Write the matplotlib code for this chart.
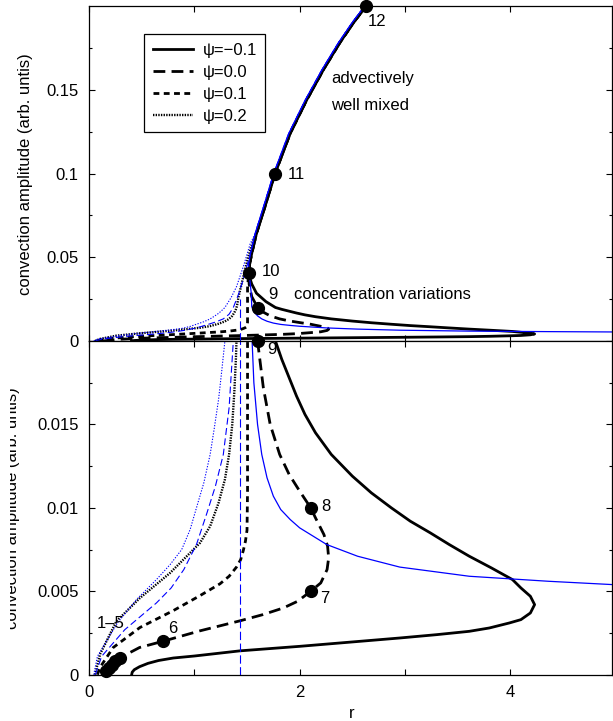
import numpy as np
import matplotlib
matplotlib.use('Agg')
import matplotlib.pyplot as plt
from matplotlib.patches import Rectangle

plt.rcParams['font.family'] = ['Liberation Sans', 'DejaVu Sans']
plt.rcParams['font.size'] = 12
plt.rcParams['lines.scale_dashes'] = False

# ---------------- data (r, amplitude) ----------------
# common upper ("advectively well mixed") branch, black curves
upper_r = [1.52, 1.525, 1.545, 1.59, 1.67, 1.766, 1.91, 2.067, 2.225, 2.38, 2.51, 2.63, 2.75]
upper_A = [0.040, 0.046, 0.0524, 0.0643, 0.0802, 0.100, 0.124, 0.144, 0.162, 0.178, 0.190, 0.200, 0.210]

# upper branch, blue curves
bup_r = [1.515, 1.533, 1.578, 1.657, 1.753, 1.897, 2.054, 2.212, 2.367, 2.497, 2.617, 2.737]
bup_A = [0.046, 0.0524, 0.0643, 0.0802, 0.100, 0.124, 0.144, 0.162, 0.178, 0.190, 0.200, 0.210]

# psi = -0.1 (black solid)
m01_r = [0.405, 0.41, 0.43, 0.48, 0.56, 0.66, 0.80, 1.00, 1.434, 2.0, 2.95, 3.30, 3.61, 3.80, 3.99,
         4.10, 4.19, 4.23, 4.19, 4.10, 4.02, 3.82, 3.61, 3.42, 3.24, 3.05, 2.87, 2.68, 2.50, 2.30,
         2.15, 2.05, 1.97, 1.90, 1.83, 1.77, 1.68, 1.59, 1.545, 1.525]
m01_A = [0.0, 0.00015, 0.0003, 0.00048, 0.00068, 0.00085, 0.00100, 0.00112, 0.00143, 0.0017, 0.0022,
         0.0024, 0.0026, 0.0028, 0.0031, 0.0033, 0.0037, 0.0042, 0.0047, 0.0052, 0.0057, 0.0064,
         0.0071, 0.0078, 0.0085, 0.0092, 0.0100, 0.0109, 0.0119, 0.0132, 0.0145, 0.0156, 0.0167,
         0.0178, 0.0189, 0.0200, 0.0235, 0.0285, 0.034, 0.038]

# psi = 0.0 (black long dashed)
p00_r = [0.13, 0.16, 0.20, 0.29, 0.48, 0.70, 1.054, 1.434, 1.65, 1.845, 1.98, 2.105, 2.20, 2.26, 2.275,
         2.265, 2.23, 2.19, 2.15, 2.105, 2.00, 1.90, 1.81, 1.72, 1.655, 1.60, 1.545, 1.52]
p00_A = [0.0, 0.0002, 0.0005, 0.0010, 0.00163, 0.0020, 0.00263, 0.00323, 0.0036, 0.0040, 0.0044,
         0.0050, 0.0055, 0.0063, 0.0070, 0.0077, 0.0084, 0.0089, 0.0094, 0.0100, 0.0110, 0.0120,
         0.0132, 0.0150, 0.0172, 0.0200, 0.0265, 0.034]

# psi = 0.1 (black short dashed)
p01_r = [0.08, 0.105, 0.23, 0.484, 0.80, 1.054, 1.244, 1.33, 1.40, 1.44, 1.465, 1.485, 1.50, 1.505,
         1.505, 1.505, 1.505, 1.51]
p01_A = [0.0, 0.00044, 0.00163, 0.00283, 0.00384, 0.00474, 0.00545, 0.0059, 0.00645, 0.0069,
         0.00745, 0.0080, 0.00866, 0.0110, 0.0147, 0.0200, 0.0315, 0.036]

# psi = 0.2 (black dotted)
p02_r = [0.057, 0.105, 0.26, 0.484, 0.77, 1.054, 1.15, 1.23, 1.29, 1.33, 1.36, 1.38, 1.395, 1.405,
         1.42, 1.465, 1.51, 1.55]
p02_A = [0.0, 0.00123, 0.0032, 0.0046, 0.0061, 0.0079, 0.0089, 0.0103, 0.0117, 0.0132, 0.0150,
         0.0170, 0.0190, 0.0210, 0.0265, 0.0384, 0.050, 0.058]

# blue solid
bs_r = [4.97, 4.36, 3.61, 3.25, 2.95, 2.55, 2.257, 2.00, 1.91, 1.82, 1.75, 1.69, 1.64, 1.60, 1.565,
        1.545, 1.54, 1.53, 1.52]
bs_A = [0.0054, 0.0056, 0.0059, 0.0062, 0.00645, 0.0071, 0.0078, 0.0088, 0.0093, 0.0099, 0.0107,
        0.0118, 0.0132, 0.0150, 0.0175, 0.0205, 0.0285, 0.0345, 0.040]

# blue dotted
bd_r = [0.045, 0.08, 0.27, 0.45, 0.64, 0.77, 0.88, 0.96, 1.02, 1.09, 1.15, 1.19, 1.23, 1.26, 1.29,
        1.35, 1.40, 1.465, 1.53]
bd_A = [0.0, 0.0011, 0.0031, 0.0045, 0.0057, 0.0066, 0.0075, 0.0087, 0.0100, 0.0115, 0.0132,
        0.0148, 0.0165, 0.0182, 0.0200, 0.026, 0.0324, 0.0444, 0.058]

# blue dashed
bk_r = [0.06, 0.12, 0.34, 0.49, 0.64, 0.78, 0.90, 1.02, 1.12, 1.20, 1.275, 1.33, 1.37, 1.42, 1.46, 1.50]
bk_A = [0.0, 0.0011, 0.0027, 0.0035, 0.0043, 0.0052, 0.0063, 0.0078, 0.0097, 0.0113, 0.0132, 0.0160,
        0.0200, 0.028, 0.036, 0.045]

# blue dashed vertical line
vl_r = [1.434, 1.434]
vl_A = [0.0, 0.025]

# numbered points
pt_r = [0.16, 0.19, 0.22, 0.25, 0.29, 0.70, 2.105, 2.105, 1.60, 1.52, 1.766, 2.63]
pt_A = [0.0002, 0.0004, 0.0006, 0.0008, 0.0010, 0.0020, 0.0050, 0.0100, 0.0200, 0.0404, 0.1000, 0.2000]

# point labels
lab_text = ['1\u20135', '6', '7', '8', '9', '9', '10', '11', '12']
lab_r = [0.073, 0.753, 2.195, 2.2, 1.69, 1.70, 1.64, 1.89, 2.65]
lab_A = [0.00304, 0.00275, 0.00459, 0.0101, 0.0195, 0.0278, 0.0412, 0.0992, 0.1906]
lab_panel = ['bot', 'bot', 'bot', 'bot', 'bot', 'top', 'top', 'top', 'top']

notes = ['advectively', 'well mixed', 'concentration variations']
notes_r = [2.30, 2.30, 1.947]
notes_A = [0.157, 0.1404, 0.0275]

legend_labels = ['\u03c8=\u22120.1', '\u03c8=0.0', '\u03c8=0.1', '\u03c8=0.2']

# ---------------- figure ----------------
W_PX, H_PX = 613, 721
fig = plt.figure(figsize=(W_PX / 100, H_PX / 100), dpi=100)
left = 89 / W_PX
width = (611.5 - 89) / W_PX
ax_top = fig.add_axes([left, 1 - 341 / H_PX, width, 335 / H_PX])
ax_bot = fig.add_axes([left, 1 - 674.7 / H_PX, width, (674.7 - 341) / H_PX])

BLUE = '#0000ff'
black_curves = [
    (np.concatenate([m01_r, upper_r]), np.concatenate([m01_A, upper_A]),
     dict(color='black', lw=2.0, ls='-'), legend_labels[0]),
    (np.concatenate([p00_r, upper_r]), np.concatenate([p00_A, upper_A]),
     dict(color='black', lw=2.0, ls=(0, (8.5, 4.5))), legend_labels[1]),
    (np.concatenate([p01_r, upper_r]), np.concatenate([p01_A, upper_A]),
     dict(color='black', lw=2.0, ls=(0, (4.2, 3.2))), legend_labels[2]),
    (np.concatenate([p02_r, upper_r[3:]]), np.concatenate([p02_A, upper_A[3:]]),
     dict(color='black', lw=1.7, ls=(0, (1.0, 0.9))), legend_labels[3]),
]
blue_curves = [
    (np.concatenate([bs_r, bup_r]), np.concatenate([bs_A, bup_A]),
     dict(color=BLUE, lw=0.9, ls='-')),
    (np.concatenate([bd_r, bup_r[2:]]), np.concatenate([bd_A, bup_A[2:]]),
     dict(color=BLUE, lw=0.8, ls=(0, (0.9, 1.1)))),
    (np.concatenate([bk_r, bup_r[1:]]), np.concatenate([bk_A, bup_A[1:]]),
     dict(color=BLUE, lw=0.8, ls=(0, (5.0, 2.5)))),
    (np.array(vl_r), np.array(vl_A),
     dict(color=BLUE, lw=0.8, ls=(0, (6.0, 2.5)))),
]

legend_handles = []
for ax, ylim in ((ax_top, (0, 0.2)), (ax_bot, (0, 0.02))):
    for r, a, st, lab in black_curves:
        h, = ax.plot(r, a, solid_joinstyle='round', dash_joinstyle='round',
                     dash_capstyle='butt', label=lab, **st)
        if ax is ax_top:
            legend_handles.append(h)
    for r, a, st in blue_curves:
        ax.plot(r, a, solid_joinstyle='round', **st)
    pr = np.array(pt_r)
    pa = np.array(pt_A)
    if ax is ax_top:
        sel = pa >= 0.015
    else:
        sel = pa <= 0.0201
    ax.plot(pr[sel], pa[sel], 'o', color='black', ms=8.5, clip_on=False, zorder=6)
    ax.set_xlim(0, 4.96)
    ax.set_ylim(*ylim)
    ax.tick_params(which='both', direction='in', top=True, right=True, width=0.8)
    ax.tick_params(which='major', length=4.5, pad=7.5, labelsize=12)
    ax.tick_params(which='minor', length=2.3)
    for s in ax.spines.values():
        s.set_linewidth(0.9)
    ax.set_xticks([0, 1, 2, 3, 4])

ax_top.set_yticks([0, 0.05, 0.1, 0.15])
ax_top.set_yticklabels(['0', '0.05', '0.1', '0.15'])
ax_top.set_yticks([0.025, 0.075, 0.125, 0.175], minor=True)
ax_top.set_xticklabels([])
ax_bot.set_yticks([0, 0.005, 0.01, 0.015])
ax_bot.set_yticklabels(['0', '0.005', '0.01', '0.015'])
ax_bot.set_yticks([0.0025, 0.0075, 0.0125, 0.0175], minor=True)
ax_bot.set_xticklabels(['0', '', '2', '', '4'])

# labels next to points
for t, r, a, p in zip(lab_text, lab_r, lab_A, lab_panel):
    ax = ax_top if p == 'top' else ax_bot
    ax.text(r, a, t, ha='left', va='center', fontsize=12, zorder=7)
for t, r, a in zip(notes, notes_r, notes_A):
    ax_top.text(r, a, t, ha='left', va='center', fontsize=12)

# legend
leg = ax_top.legend(handles=legend_handles, loc='upper left',
                    bbox_to_anchor=(0.106, 0.9155), borderaxespad=0, frameon=True,
                    fancybox=False, framealpha=1, edgecolor='black', fontsize=12,
                    handlelength=2.4, handletextpad=0.6, labelspacing=0.42,
                    borderpad=0.5)
leg.get_frame().set_linewidth(0.9)

# axis labels
fig.text(352 / W_PX, 1 - 713 / H_PX, 'r', ha='center', va='center', fontsize=12)
fig.text(25.5 / W_PX, 1 - 174 / H_PX, 'convection amplitude (arb. untis)',
         rotation=90, ha='center', va='center', fontsize=12)
fig.text(13 / W_PX, 1 - 508 / H_PX, 'convection amplitude (arb. untis)',
         rotation=90, ha='center', va='center', fontsize=12, zorder=1)
fig.patches.append(Rectangle((0, 1 - 660 / H_PX), 10 / W_PX, 300 / H_PX,
                             transform=fig.transFigure, facecolor='white',
                             edgecolor='none', zorder=2))

fig.savefig('out.png', dpi=100)
